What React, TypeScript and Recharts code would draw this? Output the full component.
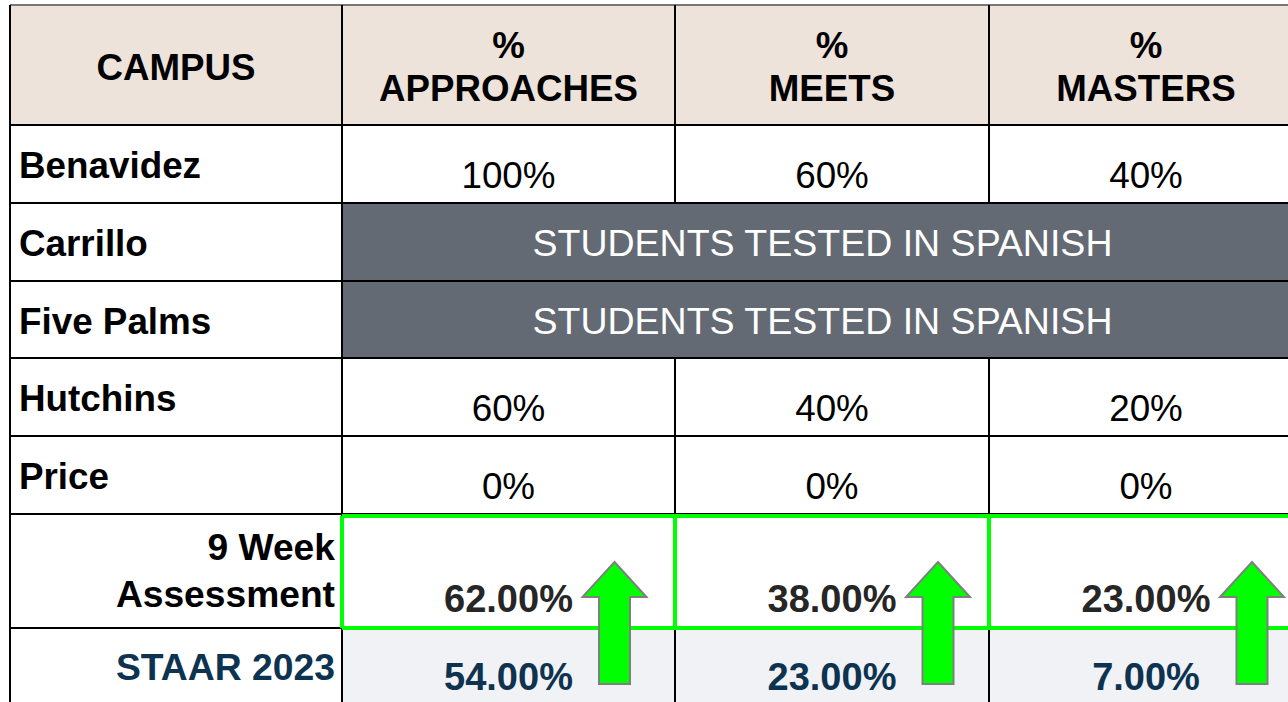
import React from 'react';
import { ComposedChart, XAxis, YAxis, Scatter, ReferenceArea, ReferenceLine } from 'recharts';

// table content
const headers = ['CAMPUS', '%|APPROACHES', '%|MEETS', '%|MASTERS'];
const campuses = ['Benavidez', 'Carrillo', 'Five Palms', 'Hutchins', 'Price'];
const approaches = [100, null, null, 60, 0];
const meets = [60, null, null, 40, 0];
const masters = [40, null, null, 20, 0];
const spanishNote = 'STUDENTS TESTED IN SPANISH';
const nineWeekLabel = ['9 Week', 'Assessment'];
const nineWeek = [62, 38, 23];
const staarLabel = 'STAAR 2023';
const staar2023 = [54, 23, 7];

// layout (chart units == px, since margins are 0)
const W = 1310;
const H = 750;
const colEdges = [10, 342, 675, 989, 1303];
const rowEdges = [5, 125, 203, 281, 358, 436, 514, 628, 750];
const FONT = "'Liberation Sans', Arial, Helvetica, sans-serif";
const NAVY = '#0d3350';
const GREEN = '#00ff00';

const colCenter = (i: number) => (colEdges[i] + colEdges[i + 1]) / 2;

type Cell = { x: number; y: number; t: string; anchor?: string; bold?: boolean; color?: string; size?: number };

const cells: Cell[] = [];
headers.forEach((h, i) => {
  const parts = h.split('|');
  if (parts.length === 1) cells.push({ x: colCenter(i), y: 80, t: parts[0], anchor: 'middle', bold: true, size: 36.7 });
  else {
    cells.push({ x: colCenter(i), y: 58, t: parts[0], anchor: 'middle', bold: true, size: 36.7 });
    cells.push({ x: colCenter(i), y: 101, t: parts[1], anchor: 'middle', bold: true, size: 36.7 });
  }
});
campuses.forEach((c, r) => {
  const top = rowEdges[r + 1];
  cells.push({ x: 19, y: top + 53, t: c, anchor: 'start', bold: true, size: 36.8 });
  if (approaches[r] == null) {
    cells.push({ x: (colEdges[1] + colEdges[4]) / 2, y: top + 53, t: spanishNote, anchor: 'middle', color: '#ffffff', size: 37.5 });
  } else {
    [approaches[r], meets[r], masters[r]].forEach((v, j) => {
      cells.push({ x: colCenter(j + 1), y: top + 63, t: `${v}%`, anchor: 'middle', size: 36.8 });
    });
  }
});
cells.push({ x: 335, y: 560, t: nineWeekLabel[0], anchor: 'end', bold: true, size: 37.2 });
cells.push({ x: 335, y: 607, t: nineWeekLabel[1], anchor: 'end', bold: true, size: 37.2 });
nineWeek.forEach((v, j) => {
  cells.push({ x: colCenter(j + 1), y: 612, t: `${v.toFixed(2)}%`, anchor: 'middle', bold: true, color: '#262626', size: 38 });
});
cells.push({ x: 335, y: 680, t: staarLabel, anchor: 'end', bold: true, color: NAVY, size: 37.3 });
staar2023.forEach((v, j) => {
  cells.push({ x: colCenter(j + 1), y: 690, t: `${v.toFixed(2)}%`, anchor: 'middle', bold: true, color: NAVY, size: 38 });
});

// up arrows where the 9 week result beats STAAR
const arrows = nineWeek
  .map((v, j) => ({ x: colCenter(j + 1) + 106, y: 562, up: v > staar2023[j] }))
  .filter((a) => a.up);

const TextShape = (props: any) => {
  const p: Cell = props.payload;
  return (
    <text
      x={props.cx}
      y={props.cy}
      textAnchor={p.anchor}
      fontFamily={FONT}
      fontSize={p.size || 36}
      fontWeight={p.bold ? 700 : 400}
      fill={p.color || '#000'}
    >
      {p.t}
    </text>
  );
};

const ArrowShape = (props: any) => {
  const { cx, cy } = props;
  const pts = [
    [cx, cy],
    [cx + 32, cy + 35],
    [cx + 15.5, cy + 35],
    [cx + 15.5, cy + 122],
    [cx - 15.5, cy + 122],
    [cx - 15.5, cy + 35],
    [cx - 32, cy + 35],
  ]
    .map((p) => p.join(','))
    .join(' ');
  return <polygon points={pts} fill={GREEN} stroke="#7f7f7f" strokeWidth={2} />;
};

export default function App() {
  const last = rowEdges.length - 1;
  return (
    <div style={{ position: 'fixed', left: 0, top: 0, width: 1288, height: 702, overflow: 'hidden', background: '#fff' }}>
      <ComposedChart width={W} height={H} margin={{ top: 0, right: 0, bottom: 0, left: 0 }}>
        <XAxis type="number" dataKey="x" domain={[0, W]} hide allowDataOverflow />
        <YAxis type="number" dataKey="y" domain={[0, H]} reversed hide allowDataOverflow />

        <ReferenceArea x1={colEdges[0]} x2={colEdges[4]} y1={rowEdges[0]} y2={rowEdges[1]} fill="#ede3db" fillOpacity={1} ifOverflow="visible" />
        <ReferenceArea x1={colEdges[1]} x2={colEdges[4]} y1={rowEdges[2]} y2={rowEdges[4]} fill="#636a73" fillOpacity={1} ifOverflow="visible" />
        <ReferenceArea x1={colEdges[1]} x2={colEdges[4]} y1={rowEdges[7]} y2={rowEdges[8]} fill="#f1f2f6" fillOpacity={1} ifOverflow="visible" />

        <ReferenceLine segment={[{ x: colEdges[0], y: rowEdges[0] }, { x: colEdges[4], y: rowEdges[0] }]} stroke="#777" strokeWidth={2} ifOverflow="visible" />
        {rowEdges.slice(1, last).map((y) => (
          <ReferenceLine key={'h' + y} segment={[{ x: colEdges[0], y }, { x: colEdges[4], y }]} stroke="#000" strokeWidth={2} ifOverflow="visible" />
        ))}
        {colEdges.slice(0, 2).map((x) => (
          <ReferenceLine key={'v' + x} segment={[{ x, y: rowEdges[0] }, { x, y: rowEdges[last] }]} stroke="#000" strokeWidth={2} ifOverflow="visible" />
        ))}
        {colEdges.slice(2, 4).map((x) => (
          <ReferenceLine key={'va' + x} segment={[{ x, y: rowEdges[0] }, { x, y: rowEdges[2] }]} stroke="#000" strokeWidth={2} ifOverflow="visible" />
        ))}
        {colEdges.slice(2, 4).map((x) => (
          <ReferenceLine key={'vb' + x} segment={[{ x, y: rowEdges[4] }, { x, y: rowEdges[last] }]} stroke="#000" strokeWidth={2} ifOverflow="visible" />
        ))}

        {/* green boxes round the 9 week results */}
        {[rowEdges[6] + 2, rowEdges[7]].map((y) => (
          <ReferenceLine key={'gh' + y} segment={[{ x: colEdges[1], y }, { x: colEdges[4], y }]} stroke={GREEN} strokeWidth={4} ifOverflow="visible" />
        ))}
        {colEdges.slice(1).map((x) => (
          <ReferenceLine key={'gv' + x} segment={[{ x, y: rowEdges[6] + 2 }, { x, y: rowEdges[7] }]} stroke={GREEN} strokeWidth={4} ifOverflow="visible" />
        ))}

        <Scatter data={cells} dataKey="y" shape={TextShape} isAnimationActive={false} />
        <Scatter data={arrows} dataKey="y" shape={ArrowShape} isAnimationActive={false} />
      </ComposedChart>
    </div>
  );
}
